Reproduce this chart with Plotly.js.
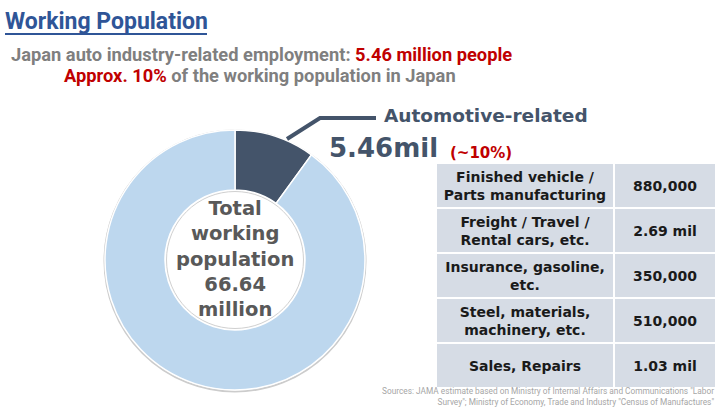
<!DOCTYPE html>
<html>
<head>
<meta charset="utf-8">
<script src="https://cdn.plot.ly/plotly-3.0.1.min.js"></script>
<style>html,body{margin:0;padding:0;background:#fff;}#chart{width:724px;height:407px;}</style>
</head>
<body>
<div id="chart"></div>
<script>
// ---- data ----
var sliceLabels = ['Automotive-related', 'Other working population'];
var sliceShares = [10, 90];            // percent of working population (~10%)
var totalWorking = '66.64';            // million
var autoTotal = '5.46';                // million
var breakdownCategories = [
  'Finished vehicle /<br>Parts manufacturing',
  'Freight / Travel /<br>Rental cars, etc.',
  'Insurance, gasoline,<br>etc.',
  'Steel, materials,<br>machinery, etc.',
  'Sales, Repairs'
];
var breakdownValues = ['880,000', '2.69 mil', '350,000', '510,000', '1.03 mil'];

// ---- helpers (pixel -> paper) ----
var W = 724, H = 407;
function X(px){ return px / W; }
function Y(py){ return 1 - py / H; }

var DARK = '#44546a', LIGHT = '#bdd7ee', RED = '#c00000', GRAY = '#7f7f7f';
var VER = '"DejaVu Sans", Verdana, sans-serif';
var NAR = 'Roboto, "Liberation Sans", sans-serif';

// donut geometry
var cx = 235, cy = 260, R = 130, r = 70;

// table heatmap
var rowIdx = breakdownCategories.map(function(_, i){ return i; });
var colEdges = [0, 178, 280];
var z = breakdownCategories.map(function(){ return [1, 1]; });
var txt = breakdownCategories.map(function(c, i){ return [c, breakdownValues[i]]; });

var data = [
  {
    type: 'pie',
    labels: sliceLabels,
    values: sliceShares,
    sort: false,
    direction: 'clockwise',
    rotation: 0,
    hole: r / R,
    marker: {colors: [DARK, LIGHT], line: {color: '#ffffff', width: 1.5}},
    textinfo: 'none',
    hoverinfo: 'label+percent',
    domain: {x: [X(cx - R), X(cx + R)], y: [Y(cy + R), Y(cy - R)]},
    showlegend: false
  },
  {
    type: 'heatmap',
    xaxis: 'x2', yaxis: 'y2',
    x: colEdges,
    y: rowIdx,
    z: z,
    text: txt,
    texttemplate: '%{text}',
    textfont: {family: VER, size: 14, color: '#1a1a1a', weight: 'bold'},
    colorscale: [[0, '#d6dce5'], [1, '#d6dce5']],
    showscale: false,
    xgap: 2, ygap: 2,
    hoverinfo: 'skip'
  }
];

function ann(o){ o.xref = 'paper'; o.yref = 'paper'; o.showarrow = false; return o; }

var annotations = [
  ann({x: X(3), y: Y(21), xanchor: 'left', yanchor: 'middle',
   text: '<b>Working Population</b>', font: {family: NAR, size: 23, color: '#2f5597'}}),
  ann({x: X(261), y: Y(55), xanchor: 'center', yanchor: 'middle',
   text: '<b>Japan auto industry-related employment: <span style="color:' + RED + '">' + autoTotal + ' million people</span></b>',
   font: {family: NAR, size: 18.3, color: GRAY}}),
  ann({x: X(260), y: Y(75), xanchor: 'center', yanchor: 'middle',
   text: '<b><span style="color:' + RED + '">Approx. 10%</span> of the working population in Japan</b>',
   font: {family: NAR, size: 18.3, color: GRAY}}),
  ann({x: X(382), y: Y(115), xanchor: 'left', yanchor: 'middle',
   text: '<b>' + sliceLabels[0] + '</b>', font: {family: VER, size: 18.5, color: DARK}}),
  ann({x: X(327), y: Y(148), xanchor: 'left', yanchor: 'middle',
   text: '<b>' + autoTotal + 'mil</b>', font: {family: VER, size: 26, color: DARK}}),
  ann({x: X(448), y: Y(153), xanchor: 'left', yanchor: 'middle',
   text: '<b>(~' + sliceShares[0] + '%)</b>', font: {family: VER, size: 15, color: RED}}),
  ann({x: X(cx), y: Y(259), xanchor: 'center', yanchor: 'middle',
   text: '<b>Total<br>working<br>population<br>' + totalWorking + '<br>million</b>',
   font: {family: VER, size: 19.5, color: '#595959'}}),
  ann({x: X(716), y: Y(396), xanchor: 'right', yanchor: 'middle', align: 'right',
   text: 'Sources: JAMA estimate based on Ministry of Internal Affairs and Communications "Labor<br>Survey"; Ministry of Economy, Trade and Industry "Census of Manufactures"',
   font: {family: NAR, size: 8.3, color: '#a6a6a6'}})
];

var shapes = [
  // title underline
  {type: 'line', xref: 'paper', yref: 'paper', x0: X(5), x1: X(207), y0: Y(34), y1: Y(34),
   line: {color: '#2f5597', width: 2}},
  // outer shadow of donut
  {type: 'circle', xref: 'paper', yref: 'paper', layer: 'below',
   x0: X(cx - R - 0.5), x1: X(cx + R + 0.5), y0: Y(cy + R + 1.5), y1: Y(cy - R + 0.5),
   fillcolor: 'rgba(0,0,0,0)', line: {color: '#cccccc', width: 2}},
  // inner hole ring
  {type: 'circle', xref: 'paper', yref: 'paper', layer: 'above',
   x0: X(cx - r + 1.5), x1: X(cx + r - 1.5), y0: Y(cy + r - 1.5), y1: Y(cy - r + 1.5),
   fillcolor: 'rgba(0,0,0,0)', line: {color: '#d0d0d0', width: 1}},
  // leader line
  {type: 'path', xref: 'paper', yref: 'paper',
   path: 'M ' + X(287) + ' ' + Y(139) + ' L ' + X(320) + ' ' + Y(118) + ' L ' + X(376) + ' ' + Y(118),
   line: {color: DARK, width: 4}}
];

var layout = {
  width: W, height: H,
  margin: {l: 0, r: 0, t: 0, b: 0, pad: 0},
  paper_bgcolor: '#ffffff', plot_bgcolor: '#ffffff',
  showlegend: false,
  xaxis2: {domain: [X(436), X(716)], range: [colEdges[0], colEdges[2]], visible: false, anchor: 'y2', fixedrange: true},
  yaxis2: {domain: [Y(388), Y(163)], range: [4.5, -0.5], visible: false, anchor: 'x2', fixedrange: true},
  annotations: annotations,
  shapes: shapes
};

Plotly.newPlot('chart', data, layout, {displayModeBar: false, staticPlot: true});
</script>
</body>
</html>
